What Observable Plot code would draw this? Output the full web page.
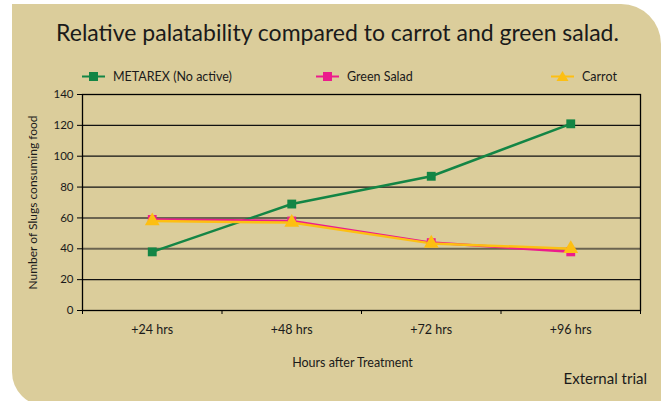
<!DOCTYPE html>
<html>
<head>
<meta charset="utf-8">
<script src="https://cdn.jsdelivr.net/npm/d3@7"></script>
<script src="https://cdn.jsdelivr.net/npm/@observablehq/plot@0.6"></script>
<style>
  html, body { margin: 0; padding: 0; background: #fff; }
  #wrap { position: relative; width: 665px; height: 401px; overflow: hidden; font-family: Lato, "Open Sans", sans-serif; color: #1a1a1a; }
  #bg { position: absolute; left: 12px; top: 4px; width: 649px; height: 402px; background: #dbcd9b; border-radius: 0 40px 0 34px; }
  #title { position: absolute; left: 0; width: 675px; top: 18px; text-align: center; font-size: 23px; }
  .leg { position: absolute; top: 69px; font-size: 12.5px; display: flex; align-items: center; }
  .leg svg { margin-right: 8px; }
  #caption { position: absolute; right: 18px; top: 369px; font-size: 15px; }
  #chart { position: absolute; left: 0; top: 0; }
</style>
</head>
<body>
<div id="wrap">
  <div id="bg"></div>
  <div id="title"></div>
  <div id="legend"></div>
  <div id="chart"></div>
  <div id="caption"></div>
</div>
<script>
const titleText = "Relative palatability compared to carrot and green salad.";
const captionText = "External trial";
const xLabel = "Hours after Treatment";
const yLabel = "Number of Slugs consuming food";
const categories = ["+24 hrs", "+48 hrs", "+72 hrs", "+96 hrs"];
const seriesNames = ["METAREX (No active)", "Green Salad", "Carrot"];
const metarex = [38, 69, 87, 121];
const greenSalad = [59, 58, 44, 38];
const carrot = [58, 57, 43.5, 40];
const yTicks = [0, 20, 40, 60, 80, 100, 120, 140];
const colors = ["#138545", "#ec1c8c", "#fdbf12"];
const symbols = ["square", "square", "triangle"];

document.getElementById("title").textContent = titleText;
document.getElementById("caption").textContent = captionText;

// legend
const legendX = [82, 316, 551];
const legend = document.getElementById("legend");
seriesNames.forEach((name, i) => {
  const d = document.createElement("div");
  d.className = "leg";
  d.style.left = legendX[i] + "px";
  const marker = symbols[i] === "square"
    ? `<rect x="7" y="3" width="9" height="9" fill="${colors[i]}"/>`
    : `<path d="M11.5,2 L17.5,12 L5.5,12 Z" fill="${colors[i]}"/>`;
  d.innerHTML = `<svg width="23" height="15"><line x1="0" x2="23" y1="7.5" y2="7.5" stroke="${colors[i]}" stroke-width="2"/>${marker}</svg><span>${name}</span>`;
  legend.appendChild(d);
});

const series = [metarex, greenSalad, carrot];
const data = series.flatMap((vals, s) => vals.map((v, i) => ({series: seriesNames[s], x: i + 0.5, y: v, s})));
const squares = data.filter(d => symbols[d.s] === "square");
const triangles = data.filter(d => symbols[d.s] === "triangle");

const gridColor = v => (v === 40 || v === 60) ? "#6b6450" : "#111";
const gridWidth = v => (v === 40 || v === 60) ? 2 : 1.3;

const chart = Plot.plot({
  width: 665,
  height: 401,
  marginLeft: 82,
  marginRight: 25,
  marginTop: 94,
  marginBottom: 91,
  style: { background: "transparent", fontFamily: "Lato, 'Open Sans', sans-serif", fontSize: "11px", color: "#1a1a1a" },
  x: { domain: [0, categories.length] },
  y: { domain: [0, 140] },
  color: { domain: seriesNames, range: colors },
  marks: [
    Plot.ruleY(yTicks.filter(v => v > 0 && v < 140), { y: d => d, stroke: gridColor, strokeWidth: gridWidth }),
    Plot.frame({ stroke: "#000", strokeWidth: 1.3 }),
    Plot.axisY({ ticks: yTicks, tickSize: 5, tickPadding: 4, label: null, fontSize: 11.5, stroke: "#000" }),
    Plot.axisX({ ticks: d3.range(categories.length + 1), tickSize: 4, tickFormat: () => "", label: null, stroke: "#000" }),
    Plot.axisX({ ticks: categories.map((c, i) => i + 0.5), tickSize: 0, tickPadding: 15, tickFormat: v => categories[Math.floor(v)], label: null, fontSize: 12.5 }),
    Plot.text([yLabel], { frameAnchor: "left", textAnchor: "middle", rotate: -90, dx: -49, dy: 0, fontSize: 12, fill: "#1a1a1a" }),
    Plot.text([xLabel], { frameAnchor: "bottom", dx: -9, dy: 56, fontSize: 12.5, fill: "#1a1a1a" }),
    Plot.line(data, { x: "x", y: "y", z: "series", stroke: "series", strokeWidth: 2.5 }),
    Plot.dot(squares, { x: "x", y: "y", fill: "series", symbol: "square", r: 5 }),
    Plot.dot(triangles, { x: "x", y: "y", fill: "series", symbol: "triangle", r: 5.5 })
  ]
});
document.getElementById("chart").appendChild(chart);
</script>
</body>
</html>
